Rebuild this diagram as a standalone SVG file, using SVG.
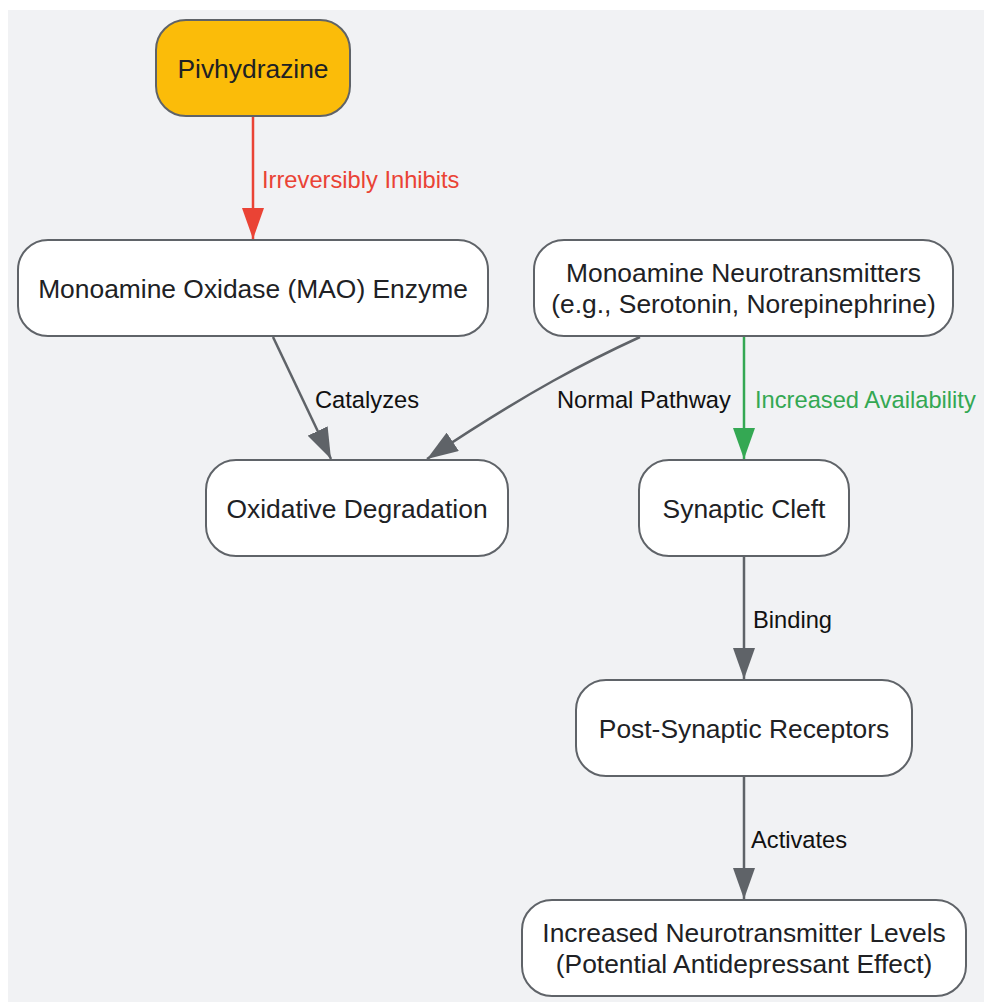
<svg xmlns="http://www.w3.org/2000/svg" width="984" height="1002" viewBox="0 0 984 1002">
<style>
.node rect{fill:#ffffff;stroke:#5f6368;stroke-width:2}
.node text{font-family:"Liberation Sans",Arial,sans-serif;font-size:26.4px;fill:#202124;text-anchor:middle}
.edge{fill:none;stroke:#5f6368;stroke-width:2.5}
.lbl{font-family:"Liberation Sans",Arial,sans-serif;font-size:23.7px;fill:#111111}
</style>
<defs>
<marker id="ag" viewBox="0 0 31 22" refX="31" refY="11" markerWidth="31" markerHeight="22" markerUnits="userSpaceOnUse" orient="auto"><path d="M0,0 L31,11 L0,22 z" fill="#5f6368"/></marker>
<marker id="ar" viewBox="0 0 31 22" refX="31" refY="11" markerWidth="31" markerHeight="22" markerUnits="userSpaceOnUse" orient="auto"><path d="M0,0 L31,11 L0,22 z" fill="#ea4335"/></marker>
<marker id="agr" viewBox="0 0 31 22" refX="31" refY="11" markerWidth="31" markerHeight="22" markerUnits="userSpaceOnUse" orient="auto"><path d="M0,0 L31,11 L0,22 z" fill="#34a853"/></marker>
</defs>
<rect x="8" y="10" width="976" height="992" fill="#f1f2f4"/>
<g id="connectors">
<path class="edge" d="M253,117 L253,239" style="stroke:#ea4335" marker-end="url(#ar)"/>
<text class="lbl" x="262" y="188" style="fill:#ea4335">Irreversibly Inhibits</text>
<path class="edge" d="M273,337 L331,459" marker-end="url(#ag)"/>
<text class="lbl" x="315" y="408">Catalyzes</text>
<path class="edge" d="M640,337 C590,360 530,390 427,459" marker-end="url(#ag)"/>
<text class="lbl" x="557" y="408">Normal Pathway</text>
<path class="edge" d="M744,337 L744,459" style="stroke:#34a853" marker-end="url(#agr)"/>
<text class="lbl" x="755" y="408" style="fill:#34a853">Increased Availability</text>
<path class="edge" d="M744,557 L744,679" marker-end="url(#ag)"/>
<text class="lbl" x="753" y="628">Binding</text>
<path class="edge" d="M744,777 L744,899" marker-end="url(#ag)"/>
<text class="lbl" x="751" y="848">Activates</text>
</g>
<g id="pivhydrazine" class="node"><rect x="156" y="20" width="194" height="96" rx="30" style="fill:#fbbc09"/><text x="253" y="78">Pivhydrazine</text></g>
<g id="mao" class="node"><rect x="18" y="240" width="470" height="96" rx="30"/><text x="253" y="298">Monoamine Oxidase (MAO) Enzyme</text></g>
<g id="neurotransmitters" class="node"><rect x="534" y="240" width="419" height="96" rx="30"/><text x="743.5" y="281.5">Monoamine Neurotransmitters</text><text x="743.5" y="313">(e.g., Serotonin, Norepinephrine)</text></g>
<g id="oxidative" class="node"><rect x="206" y="460" width="302" height="96" rx="30"/><text x="357" y="518">Oxidative Degradation</text></g>
<g id="synaptic" class="node"><rect x="639" y="460" width="210" height="96" rx="30"/><text x="744" y="518">Synaptic Cleft</text></g>
<g id="receptors" class="node"><rect x="576" y="680" width="336" height="96" rx="30"/><text x="744" y="738">Post-Synaptic Receptors</text></g>
<g id="levels" class="node"><rect x="522" y="900" width="444" height="96" rx="30"/><text x="744" y="941.5">Increased Neurotransmitter Levels</text><text x="744" y="972.5">(Potential Antidepressant Effect)</text></g>
</svg>
